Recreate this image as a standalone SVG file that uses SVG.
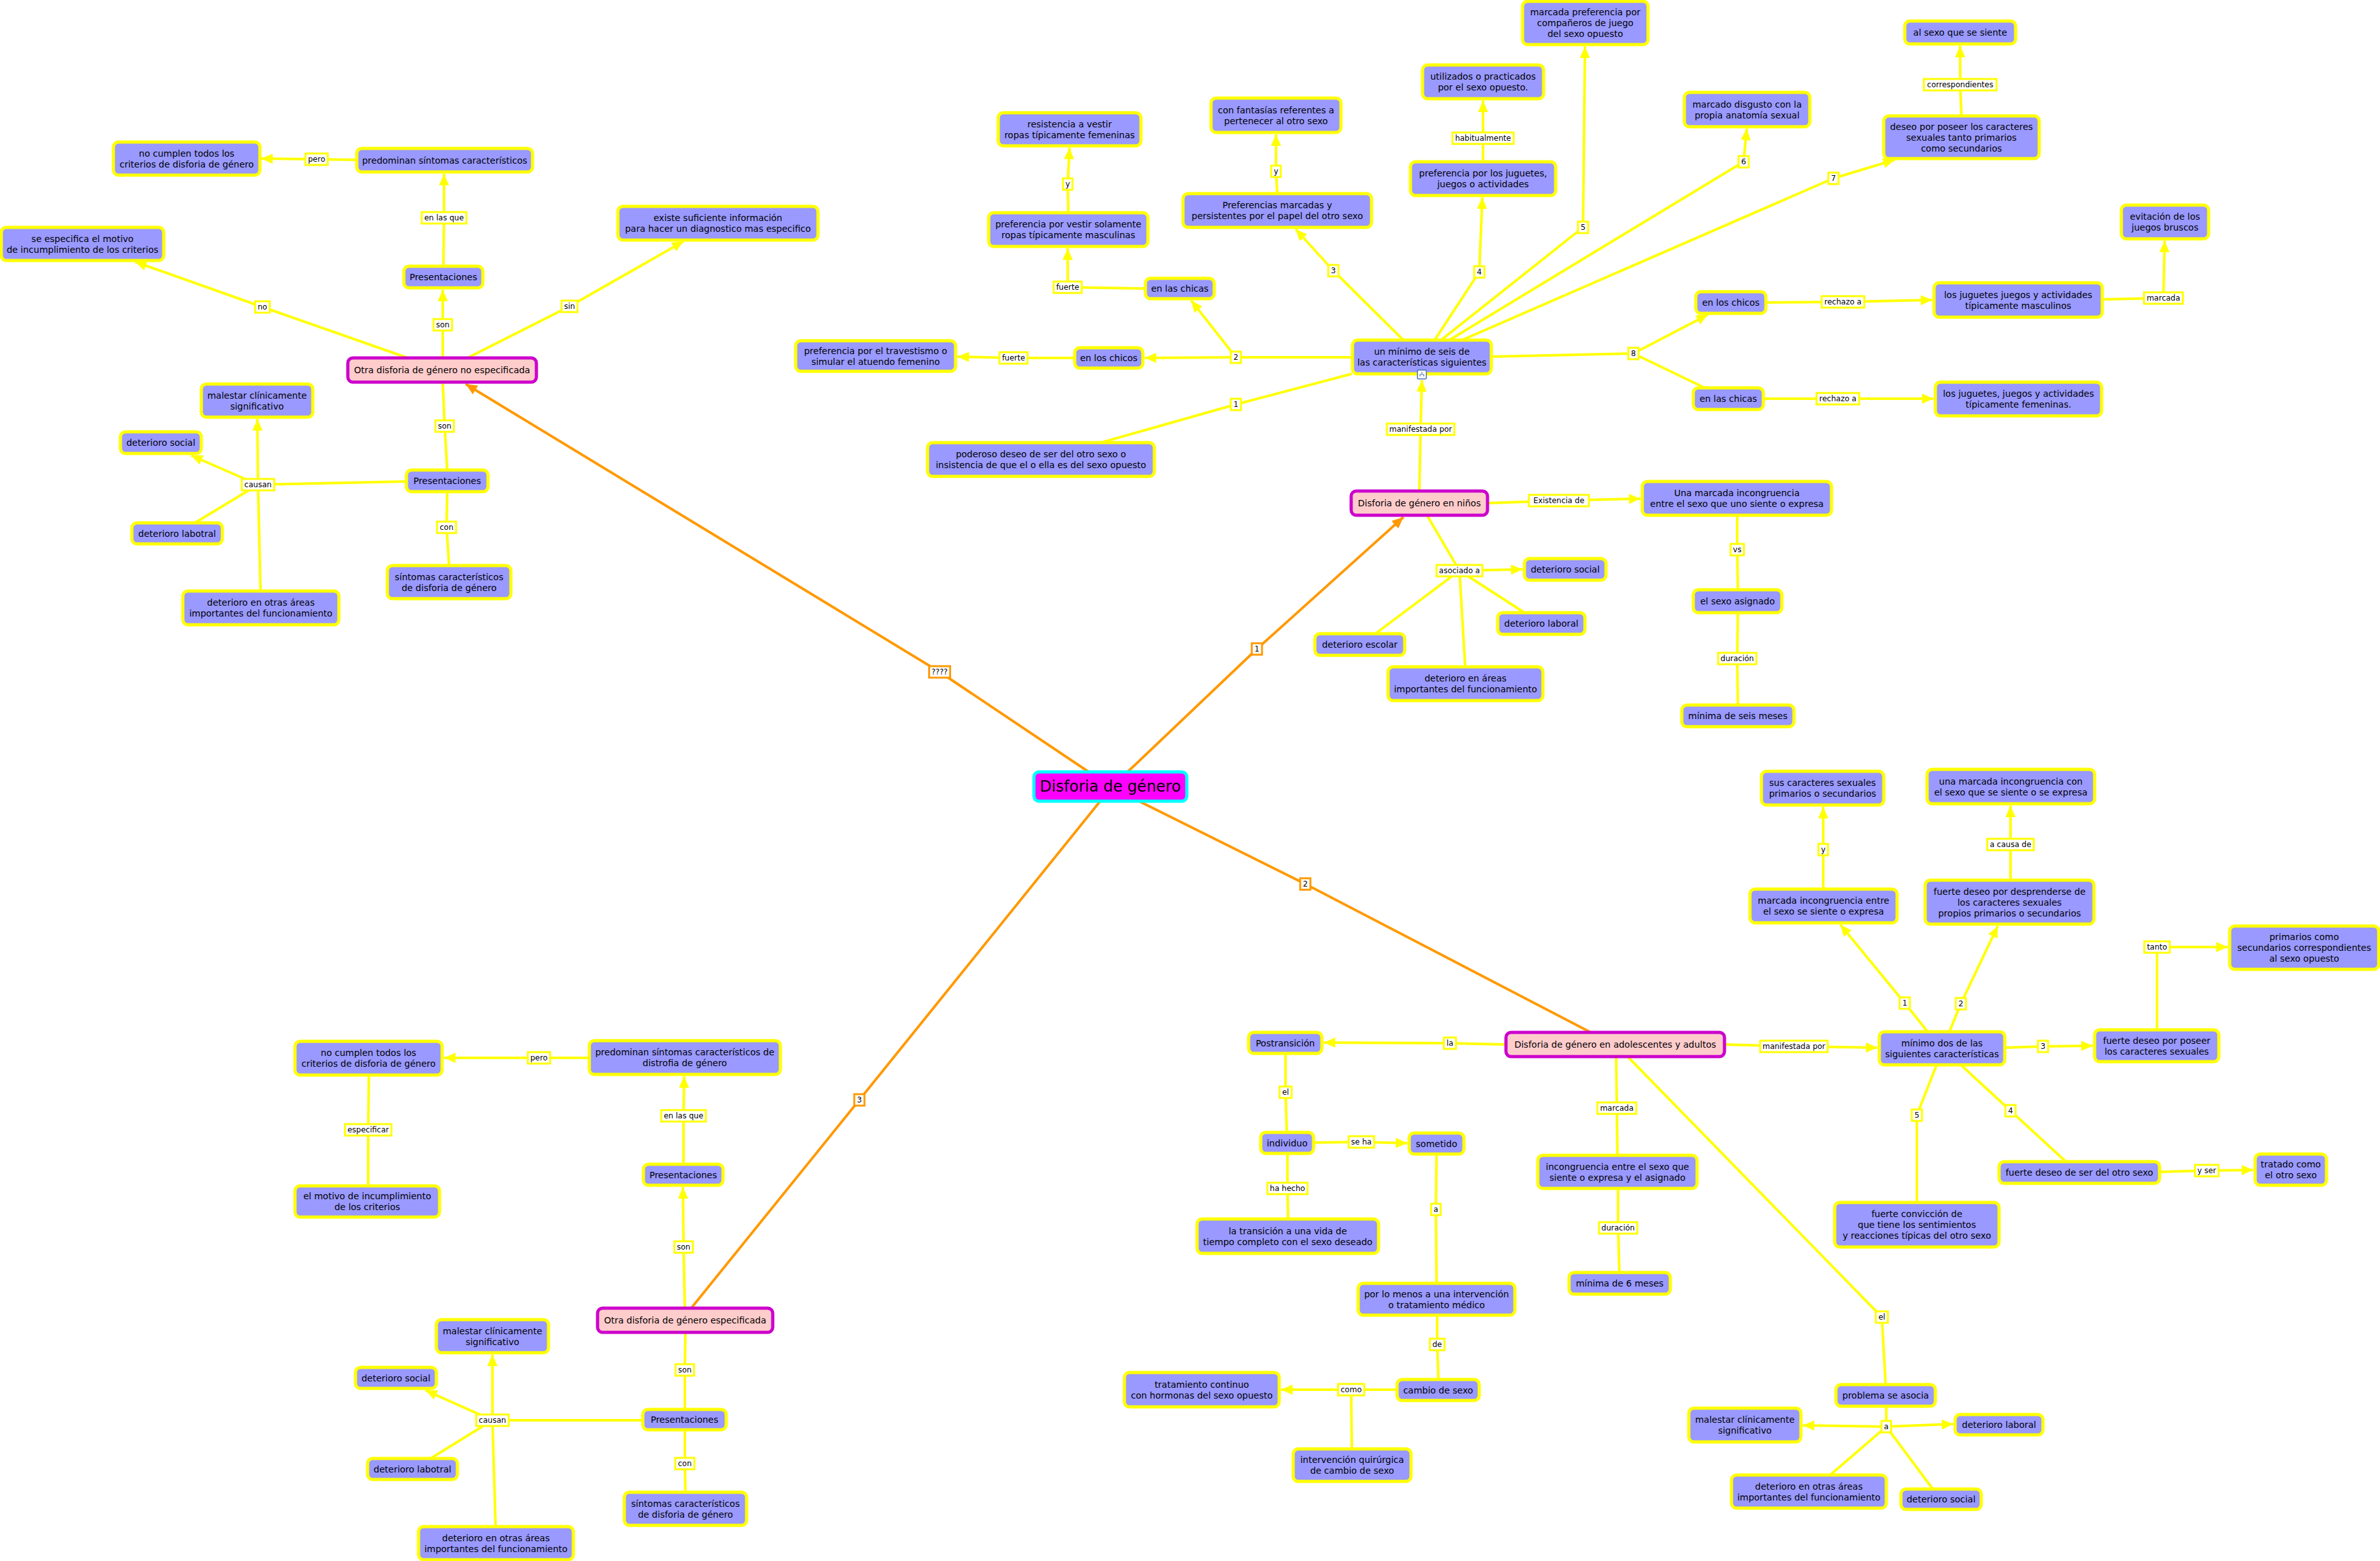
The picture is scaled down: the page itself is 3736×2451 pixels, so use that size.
<svg xmlns="http://www.w3.org/2000/svg" width="3736" height="2451" viewBox="0 0 3736 2451">
<style>
text{font-family:"DejaVu Sans",Verdana,"Liberation Sans",sans-serif;fill:#000;text-anchor:middle;dominant-baseline:central}
.n rect{fill:#9999FF;stroke:#FFFF00;stroke-width:5}
.p rect{fill:#FFCCCC;stroke:#CC00CC;stroke-width:5}
.c rect{fill:#FF00FF;stroke:#00FFFF;stroke-width:5}
.n text,.p text{font-size:14px}
.c text{font-size:24px}
.y{fill:none;stroke:#FFFF00;stroke-width:4;stroke-linejoin:round}
.o{fill:none;stroke:#FF9900;stroke-width:4;stroke-linejoin:round}
.ya{marker-end:url(#ay)}
.oa{marker-end:url(#ao)}
.l rect{fill:#fff;stroke:#FFFF00;stroke-width:3}
.lo rect{fill:#fff;stroke:#FF9900;stroke-width:3}
.l text,.lo text{font-size:12px}
</style>
<defs>
<marker id="ay" markerUnits="userSpaceOnUse" markerWidth="18" markerHeight="16" refX="18" refY="8" orient="auto"><path d="M0,0 L18,8 L0,16 z" fill="#FFFF00"/></marker>
<marker id="ao" markerUnits="userSpaceOnUse" markerWidth="18" markerHeight="16" refX="18" refY="8" orient="auto"><path d="M0,0 L18,8 L0,16 z" fill="#FF9900"/></marker>
</defs>
<rect width="3736" height="2451" fill="#fff"/>
<g id="connectors">
<!-- top-left -->
<polyline class="y ya" points="560,251 497,250 410,249"/>
<polyline class="y ya" points="696,418 697,342 697,273"/>
<polyline class="y ya" points="695,562 695,510 695,455"/>
<polyline class="y ya" points="640,562 412,482 212,411"/>
<polyline class="y ya" points="734,562 894,481 1073,379"/>
<polyline class="y" points="695,600 698,669 702,738"/>
<polyline class="y" points="702,772 701,828 705,888"/>
<polyline class="y" points="638,756 405,761"/>
<polyline class="y ya" points="405,761 404,658"/>
<polyline class="y ya" points="405,761 300,715"/>
<polyline class="y" points="405,761 306,821"/>
<polyline class="y" points="405,761 409,928"/>
<!-- top-middle -->
<polyline class="y" points="2122,587 1940,635 1728,695"/>
<polyline class="y ya" points="2123,561 1940,561 1797,562"/>
<polyline class="y ya" points="1940,561 1870,472"/>
<polyline class="y ya" points="1687,562 1591,562 1503,560"/>
<polyline class="y ya" points="1798,453 1676,451 1676,390"/>
<polyline class="y ya" points="1677,334 1676,289 1679,232"/>
<polyline class="y ya" points="2203,534 2093,425 2034,360"/>
<polyline class="y ya" points="2005,304 2003,269 2003,211"/>
<polyline class="y ya" points="2252,534 2322,427 2327,310"/>
<polyline class="y ya" points="2328,254 2328,217 2328,158"/>
<polyline class="y ya" points="2262,534 2485,357 2488,73"/>
<polyline class="y ya" points="2275,534 2737,254 2742,202"/>
<polyline class="y ya" points="2295,534 2878,280 2974,251"/>
<polyline class="y ya" points="3079,182 3077,133 3077,72"/>
<polyline class="y ya" points="2341,560 2564,555 2681,494"/>
<polyline class="y" points="2564,555 2676,609"/>
<polyline class="y ya" points="2772,475 2893,474 3033,471"/>
<polyline class="y ya" points="2768,626 2885,626 3035,626"/>
<polyline class="y ya" points="3300,470 3396,468 3398,378"/>
<polyline class="y ya" points="2228,771 2230,674 2232,597"/>
<polyline class="y ya" points="2335,790 2447,786 2575,783"/>
<polyline class="y" points="2727,809 2727,863 2728,926"/>
<polyline class="y" points="2728,962 2727,1034 2728,1107"/>
<polyline class="y" points="2240,809 2291,896"/>
<polyline class="y ya" points="2291,896 2390,894"/>
<polyline class="y" points="2291,896 2393,962"/>
<polyline class="y" points="2291,896 2159,995"/>
<polyline class="y" points="2291,896 2300,1047"/>
<!-- orange -->
<polyline class="o oa" points="1709,1212 1475,1055 731,603"/>
<polyline class="o oa" points="1770,1212 1973,1019 2203,812"/>
<polyline class="o" points="1788,1258 2049,1388 2497,1621"/>
<polyline class="o" points="1727,1258 1349,1727 1085,2054"/>
<!-- bottom-left -->
<polyline class="y ya" points="925,1661 846,1661 697,1661"/>
<polyline class="y ya" points="1073,1828 1073,1752 1074,1690"/>
<polyline class="y ya" points="1075,2054 1073,1958 1072,1864"/>
<polyline class="y" points="579,1688 578,1774 578,1862"/>
<polyline class="y" points="1076,2092 1075,2151 1075,2213"/>
<polyline class="y" points="1075,2245 1075,2298 1076,2343"/>
<polyline class="y" points="1009,2230 773,2230"/>
<polyline class="y ya" points="773,2230 773,2127"/>
<polyline class="y ya" points="773,2230 668,2183"/>
<polyline class="y" points="773,2230 676,2290"/>
<polyline class="y" points="773,2230 778,2397"/>
<!-- adolescentes -->
<polyline class="y ya" points="2364,1640 2276,1638 2078,1637"/>
<polyline class="y" points="2018,1654 2018,1715 2020,1778"/>
<polyline class="y ya" points="2062,1794 2137,1793 2209,1795"/>
<polyline class="y" points="2021,1811 2021,1866 2022,1914"/>
<polyline class="y" points="2255,1812 2254,1899 2255,2015"/>
<polyline class="y" points="2256,2065 2256,2111 2258,2166"/>
<polyline class="y ya" points="2193,2182 2121,2182 2011,2182"/>
<polyline class="y" points="2121,2182 2122,2275"/>
<polyline class="y" points="2537,1659 2538,1740 2539,1814"/>
<polyline class="y" points="2540,1866 2540,1928 2542,1998"/>
<polyline class="y" points="2555,1659 2954,2068 2960,2174"/>
<polyline class="y" points="2961,2208 2961,2240"/>
<polyline class="y ya" points="2961,2240 2830,2238"/>
<polyline class="y ya" points="2961,2240 3066,2236"/>
<polyline class="y" points="2961,2240 2873,2316"/>
<polyline class="y" points="2961,2240 3034,2338"/>
<polyline class="y ya" points="2707,1640 2816,1643 2947,1645"/>
<polyline class="y ya" points="3026,1620 2990,1575 2889,1452"/>
<polyline class="y ya" points="2862,1396 2862,1334 2862,1267"/>
<polyline class="y ya" points="3060,1620 3078,1576 3136,1454"/>
<polyline class="y ya" points="3156,1382 3156,1326 3156,1265"/>
<polyline class="y ya" points="3147,1645 3207,1643 3285,1642"/>
<polyline class="y ya" points="3386,1617 3386,1487 3497,1487"/>
<polyline class="y" points="3078,1672 3156,1744 3243,1824"/>
<polyline class="y ya" points="3390,1840 3464,1838 3537,1837"/>
<polyline class="y" points="3040,1672 3009,1751 3009,1888"/>

<!-- link labels -->
<g class="l"><rect x="479.5" y="241" width="35" height="18"/><text x="497" y="250">pero</text></g>
<g class="l"><rect x="662" y="333" width="70" height="18"/><text x="697" y="342">en las que</text></g>
<g class="l"><rect x="400.5" y="473" width="23" height="18"/><text x="412" y="482">no</text></g>
<g class="l"><rect x="680.5" y="501" width="29" height="18"/><text x="695" y="510">son</text></g>
<g class="l"><rect x="881.5" y="472" width="25" height="18"/><text x="894" y="481">sin</text></g>
<g class="l"><rect x="683.5" y="660" width="29" height="18"/><text x="698" y="669">son</text></g>
<g class="l"><rect x="379.5" y="752" width="51" height="18"/><text x="405" y="761">causan</text></g>
<g class="l"><rect x="686" y="819" width="30" height="18"/><text x="701" y="828">con</text></g>

<g class="l"><rect x="1932" y="626" width="16" height="18"/><text x="1940" y="635">1</text></g>
<g class="l"><rect x="1932" y="552" width="16" height="18"/><text x="1940" y="561">2</text></g>
<g class="l"><rect x="1569" y="553" width="44" height="18"/><text x="1591" y="562">fuerte</text></g>
<g class="l"><rect x="1654" y="442" width="44" height="18"/><text x="1676" y="451">fuerte</text></g>
<g class="l"><rect x="1668.5" y="280" width="15" height="18"/><text x="1676" y="289">y</text></g>
<g class="l"><rect x="2085" y="416" width="16" height="18"/><text x="2093" y="425">3</text></g>
<g class="l"><rect x="1995.5" y="260" width="15" height="18"/><text x="2003" y="269">y</text></g>
<g class="l"><rect x="2314" y="418" width="16" height="18"/><text x="2322" y="427">4</text></g>
<g class="l"><rect x="2280" y="208" width="96" height="18"/><text x="2328" y="217">habitualmente</text></g>
<g class="l"><rect x="2477" y="348" width="16" height="18"/><text x="2485" y="357">5</text></g>
<g class="l"><rect x="2729" y="245" width="16" height="18"/><text x="2737" y="254">6</text></g>
<g class="l"><rect x="2870" y="271" width="16" height="18"/><text x="2878" y="280">7</text></g>
<g class="l"><rect x="3020" y="124" width="114" height="18"/><text x="3077" y="133">correspondientes</text></g>
<g class="l"><rect x="2556" y="546" width="16" height="18"/><text x="2564" y="555">8</text></g>
<g class="l"><rect x="2859.5" y="465" width="67" height="18"/><text x="2893" y="474">rechazo a</text></g>
<g class="l"><rect x="2851.5" y="617" width="67" height="18"/><text x="2885" y="626">rechazo a</text></g>
<g class="l"><rect x="3365.5" y="459" width="61" height="18"/><text x="3396" y="468">marcada</text></g>
<g class="l"><rect x="2177" y="665" width="106" height="18"/><text x="2230" y="674">manifestada por</text></g>
<g class="l"><rect x="2400" y="777" width="94" height="18"/><text x="2447" y="786">Existencia de</text></g>
<g class="l"><rect x="2716.5" y="854" width="21" height="18"/><text x="2727" y="863">vs</text></g>
<g class="l"><rect x="2697" y="1025" width="60" height="18"/><text x="2727" y="1034">duración</text></g>
<g class="l"><rect x="2255" y="887" width="72" height="18"/><text x="2291" y="896">asociado a</text></g>

<g class="lo"><rect x="1458.5" y="1046" width="33" height="18"/><text x="1475" y="1055">????</text></g>
<g class="lo"><rect x="1965" y="1010" width="16" height="18"/><text x="1973" y="1019">1</text></g>
<g class="lo"><rect x="2041" y="1379" width="16" height="18"/><text x="2049" y="1388">2</text></g>
<g class="lo"><rect x="1341" y="1718" width="16" height="18"/><text x="1349" y="1727">3</text></g>

<g class="l"><rect x="828.5" y="1652" width="35" height="18"/><text x="846" y="1661">pero</text></g>
<g class="l"><rect x="1038" y="1743" width="70" height="18"/><text x="1073" y="1752">en las que</text></g>
<g class="l"><rect x="1058.5" y="1949" width="29" height="18"/><text x="1073" y="1958">son</text></g>
<g class="l"><rect x="541.5" y="1765" width="73" height="18"/><text x="578" y="1774">especificar</text></g>
<g class="l"><rect x="1060.5" y="2142" width="29" height="18"/><text x="1075" y="2151">son</text></g>
<g class="l"><rect x="1060" y="2289" width="30" height="18"/><text x="1075" y="2298">con</text></g>
<g class="l"><rect x="747.5" y="2221" width="51" height="18"/><text x="773" y="2230">causan</text></g>

<g class="l"><rect x="2266.5" y="1629" width="19" height="18"/><text x="2276" y="1638">la</text></g>
<g class="l"><rect x="2008.5" y="1706" width="19" height="18"/><text x="2018" y="1715">el</text></g>
<g class="l"><rect x="2117" y="1784" width="40" height="18"/><text x="2137" y="1793">se ha</text></g>
<g class="l"><rect x="1989.5" y="1857" width="63" height="18"/><text x="2021" y="1866">ha hecho</text></g>
<g class="l"><rect x="2246.5" y="1890" width="15" height="18"/><text x="2254" y="1899">a</text></g>
<g class="l"><rect x="2244.5" y="2102" width="23" height="18"/><text x="2256" y="2111">de</text></g>
<g class="l"><rect x="2100.5" y="2173" width="41" height="18"/><text x="2121" y="2182">como</text></g>
<g class="l"><rect x="2507.5" y="1731" width="61" height="18"/><text x="2538" y="1740">marcada</text></g>
<g class="l"><rect x="2510" y="1919" width="60" height="18"/><text x="2540" y="1928">duración</text></g>
<g class="l"><rect x="2763" y="1634" width="106" height="18"/><text x="2816" y="1643">manifestada por</text></g>
<g class="l"><rect x="2982" y="1566" width="16" height="18"/><text x="2990" y="1575">1</text></g>
<g class="l"><rect x="2854.5" y="1325" width="15" height="18"/><text x="2862" y="1334">y</text></g>
<g class="l"><rect x="3070" y="1567" width="16" height="18"/><text x="3078" y="1576">2</text></g>
<g class="l"><rect x="3119.5" y="1317" width="73" height="18"/><text x="3156" y="1326">a causa de</text></g>
<g class="l"><rect x="3199" y="1634" width="16" height="18"/><text x="3207" y="1643">3</text></g>
<g class="l"><rect x="3366" y="1478" width="40" height="18"/><text x="3386" y="1487">tanto</text></g>
<g class="l"><rect x="3148" y="1735" width="16" height="18"/><text x="3156" y="1744">4</text></g>
<g class="l"><rect x="3445.5" y="1829" width="37" height="18"/><text x="3464" y="1838">y ser</text></g>
<g class="l"><rect x="3001" y="1742" width="16" height="18"/><text x="3009" y="1751">5</text></g>
<g class="l"><rect x="2944.5" y="2059" width="19" height="18"/><text x="2954" y="2068">el</text></g>
<g class="l"><rect x="2953.5" y="2231" width="15" height="18"/><text x="2961" y="2240">a</text></g>
</g>

<!-- center -->
<g id="n-disforia" class="c"><rect x="1623" y="1212" width="240" height="46" rx="8"/><text x="1743" y="1235">Disforia de género</text></g>

<!-- top-left cluster -->
<g id="n-tl-nocumplen" class="n"><rect x="178" y="223" width="230" height="52" rx="8"/><text><tspan x="293" y="240.5">no cumplen todos los</tspan><tspan x="293" y="257.5">criterios de disforia de género</tspan></text></g>
<g id="n-tl-predominan" class="n"><rect x="560" y="233" width="276" height="37" rx="8"/><text x="698" y="251.5">predominan síntomas característicos</text></g>
<g id="n-tl-presentaciones1" class="n"><rect x="634" y="418" width="124" height="34" rx="8"/><text x="696" y="435">Presentaciones</text></g>
<g id="n-tl-seespecifica" class="n"><rect x="2" y="357" width="255" height="52" rx="8"/><text><tspan x="129.5" y="374.5">se especifica el motivo</tspan><tspan x="129.5" y="391.5">de incumplimiento de los criterios</tspan></text></g>
<g id="n-tl-existe" class="n"><rect x="970" y="324" width="314" height="53" rx="8"/><text><tspan x="1127" y="342">existe suficiente información</tspan><tspan x="1127" y="359">para hacer un diagnostico mas especifico</tspan></text></g>
<g id="n-otra-no-especificada" class="p"><rect x="546" y="562" width="296" height="38" rx="8"/><text x="694" y="581">Otra disforia de género no especificada</text></g>
<g id="n-tl-malestar" class="n"><rect x="316" y="603" width="175" height="52" rx="8"/><text><tspan x="403.5" y="620.5">malestar clínicamente</tspan><tspan x="403.5" y="637.5">significativo</tspan></text></g>
<g id="n-tl-social" class="n"><rect x="189" y="678" width="127" height="34" rx="8"/><text x="252.5" y="695">deterioro social</text></g>
<g id="n-tl-presentaciones2" class="n"><rect x="638" y="738" width="128" height="34" rx="8"/><text x="702" y="755">Presentaciones</text></g>
<g id="n-tl-labotral" class="n"><rect x="207" y="821" width="142" height="33" rx="8"/><text x="278" y="837.5">deterioro labotral</text></g>
<g id="n-tl-otrasareas" class="n"><rect x="287" y="928" width="245" height="53" rx="8"/><text><tspan x="409.5" y="946">deterioro en otras áreas</tspan><tspan x="409.5" y="963">importantes del funcionamiento</tspan></text></g>
<g id="n-tl-sintomas" class="n"><rect x="608" y="888" width="194" height="52" rx="8"/><text><tspan x="705" y="905.5">síntomas característicos</tspan><tspan x="705" y="922.5">de disforia de género</tspan></text></g>

<!-- niños cluster -->
<g id="n-minimo-seis" class="n"><rect x="2123" y="534" width="218" height="53" rx="8"/><text><tspan x="2232" y="552">un mínimo de seis de</tspan><tspan x="2232" y="569">las características siguientes</tspan></text></g>
<g id="icon"><rect x="2225" y="581" width="14" height="14" rx="2" fill="#fff" stroke="#4A6FB0" stroke-width="1.5"/><path d="M2232,584 v3 M2229,588 h6 M2229,588 v3 M2235,588 v3" stroke="#4A6FB0" stroke-width="1.2" fill="none"/></g>
<g id="n-poderoso" class="n"><rect x="1456" y="695" width="356" height="53" rx="8"/><text><tspan x="1634" y="713">poderoso deseo de ser del otro sexo o</tspan><tspan x="1634" y="730">insistencia de que el o ella es del sexo opuesto</tspan></text></g>
<g id="n-enloschicos1" class="n"><rect x="1687" y="546" width="107" height="32" rx="8"/><text x="1740.5" y="562">en los chicos</text></g>
<g id="n-travestismo" class="n"><rect x="1249" y="535" width="251" height="48" rx="8"/><text><tspan x="1374.5" y="550.5">preferencia por el travestismo o</tspan><tspan x="1374.5" y="567.5">simular el atuendo femenino</tspan></text></g>
<g id="n-enlaschicas1" class="n"><rect x="1798" y="437" width="108" height="32" rx="8"/><text x="1852" y="453">en las chicas</text></g>
<g id="n-vestir-masc" class="n"><rect x="1552" y="334" width="250" height="53" rx="8"/><text><tspan x="1677" y="352">preferencia por vestir solamente</tspan><tspan x="1677" y="369">ropas típicamente masculinas</tspan></text></g>
<g id="n-resistencia" class="n"><rect x="1567" y="177" width="224" height="52" rx="8"/><text><tspan x="1679" y="194.5">resistencia a vestir</tspan><tspan x="1679" y="211.5">ropas típicamente femeninas</tspan></text></g>
<g id="n-pref-marcadas" class="n"><rect x="1857" y="304" width="296" height="53" rx="8"/><text><tspan x="2005" y="322">Preferencias marcadas y</tspan><tspan x="2005" y="339">persistentes por el papel del otro sexo</tspan></text></g>
<g id="n-fantasias" class="n"><rect x="1901" y="154" width="204" height="54" rx="8"/><text><tspan x="2003" y="172.5">con fantasías referentes a</tspan><tspan x="2003" y="189.5">pertenecer al otro sexo</tspan></text></g>
<g id="n-pref-juguetes" class="n"><rect x="2214" y="254" width="228" height="53" rx="8"/><text><tspan x="2328" y="272">preferencia por los juguetes,</tspan><tspan x="2328" y="289">juegos o actividades</tspan></text></g>
<g id="n-utilizados" class="n"><rect x="2233" y="102" width="190" height="53" rx="8"/><text><tspan x="2328" y="120">utilizados o practicados</tspan><tspan x="2328" y="137">por el sexo opuesto.</tspan></text></g>
<g id="n-companeros" class="n"><rect x="2390" y="2" width="197" height="68" rx="8"/><text><tspan x="2488.5" y="19">marcada preferencia por</tspan><tspan x="2488.5" y="36">compañeros de juego</tspan><tspan x="2488.5" y="53">del sexo opuesto</tspan></text></g>
<g id="n-disgusto" class="n"><rect x="2644" y="145" width="197" height="54" rx="8"/><text><tspan x="2742.5" y="163.5">marcado disgusto con la</tspan><tspan x="2742.5" y="180.5">propia anatomía sexual</tspan></text></g>
<g id="n-deseo-poseer" class="n"><rect x="2957" y="182" width="244" height="67" rx="8"/><text><tspan x="3079" y="198.5">deseo por poseer los caracteres</tspan><tspan x="3079" y="215.5">sexuales tanto primarios</tspan><tspan x="3079" y="232.5">como secundarios</tspan></text></g>
<g id="n-alsexo" class="n"><rect x="2990" y="33" width="174" height="36" rx="8"/><text x="3077" y="51">al sexo que se siente</text></g>
<g id="n-enloschicos2" class="n"><rect x="2662" y="458" width="110" height="34" rx="8"/><text x="2717" y="475">en los chicos</text></g>
<g id="n-enlaschicas2" class="n"><rect x="2658" y="609" width="110" height="34" rx="8"/><text x="2713" y="626">en las chicas</text></g>
<g id="n-juguetes-masc" class="n"><rect x="3036" y="444" width="264" height="54" rx="8"/><text><tspan x="3168" y="462.5">los juguetes juegos y actividades</tspan><tspan x="3168" y="479.5">típicamente masculinos</tspan></text></g>
<g id="n-juguetes-fem" class="n"><rect x="3038" y="600" width="261" height="53" rx="8"/><text><tspan x="3168.5" y="618">los juguetes, juegos y actividades</tspan><tspan x="3168.5" y="635">típicamente femeninas.</tspan></text></g>
<g id="n-evitacion" class="n"><rect x="3330" y="322" width="137" height="53" rx="8"/><text><tspan x="3398.5" y="340">evitación de los</tspan><tspan x="3398.5" y="357">juegos bruscos</tspan></text></g>
<g id="n-ninos" class="p"><rect x="2121" y="771" width="214" height="38" rx="8"/><text x="2228" y="790">Disforia de género en niños</text></g>
<g id="n-una-marcada" class="n"><rect x="2578" y="756" width="297" height="53" rx="8"/><text><tspan x="2726.5" y="774">Una marcada incongruencia</tspan><tspan x="2726.5" y="791">entre el sexo que uno siente o expresa</tspan></text></g>
<g id="n-sexo-asignado" class="n"><rect x="2658" y="926" width="139" height="36" rx="8"/><text x="2727.5" y="944">el sexo asignado</text></g>
<g id="n-minima-seis-meses" class="n"><rect x="2640" y="1107" width="176" height="34" rx="8"/><text x="2728" y="1124">mínima de seis meses</text></g>
<g id="n-ni-social" class="n"><rect x="2393" y="877" width="128" height="34" rx="8"/><text x="2457" y="894">deterioro social</text></g>
<g id="n-ni-laboral" class="n"><rect x="2351" y="962" width="137" height="34" rx="8"/><text x="2419.5" y="979">deterioro laboral</text></g>
<g id="n-ni-escolar" class="n"><rect x="2064" y="995" width="141" height="34" rx="8"/><text x="2134.5" y="1012">deterioro escolar</text></g>
<g id="n-ni-areas" class="n"><rect x="2179" y="1047" width="243" height="53" rx="8"/><text><tspan x="2300.5" y="1065">deterioro en áreas</tspan><tspan x="2300.5" y="1082">importantes del funcionamiento</tspan></text></g>

<!-- bottom-left cluster -->
<g id="n-bl-nocumplen" class="n"><rect x="463" y="1635" width="231" height="53" rx="8"/><text><tspan x="578.5" y="1653">no cumplen todos los</tspan><tspan x="578.5" y="1670">criterios de disforia de género</tspan></text></g>
<g id="n-bl-predominan" class="n"><rect x="925" y="1634" width="300" height="53" rx="8"/><text><tspan x="1075" y="1652">predominan síntomas característicos de</tspan><tspan x="1075" y="1669">distrofia de género</tspan></text></g>
<g id="n-bl-presentaciones1" class="n"><rect x="1010" y="1828" width="125" height="33" rx="8"/><text x="1072.5" y="1844.5">Presentaciones</text></g>
<g id="n-bl-motivo" class="n"><rect x="463" y="1862" width="227" height="49" rx="8"/><text><tspan x="576.5" y="1878">el motivo de incumplimiento</tspan><tspan x="576.5" y="1895">de los criterios</tspan></text></g>
<g id="n-otra-especificada" class="p"><rect x="938" y="2054" width="275" height="38" rx="8"/><text x="1075.5" y="2073">Otra disforia de género especificada</text></g>
<g id="n-bl-presentaciones2" class="n"><rect x="1009" y="2213" width="131" height="32" rx="8"/><text x="1074.5" y="2229">Presentaciones</text></g>
<g id="n-bl-sintomas" class="n"><rect x="980" y="2343" width="192" height="52" rx="8"/><text><tspan x="1076" y="2360.5">síntomas característicos</tspan><tspan x="1076" y="2377.5">de disforia de género</tspan></text></g>
<g id="n-bl-malestar" class="n"><rect x="685" y="2072" width="176" height="52" rx="8"/><text><tspan x="773" y="2089.5">malestar clínicamente</tspan><tspan x="773" y="2106.5">significativo</tspan></text></g>
<g id="n-bl-social" class="n"><rect x="558" y="2147" width="127" height="33" rx="8"/><text x="621.5" y="2163.5">deterioro social</text></g>
<g id="n-bl-labotral" class="n"><rect x="577" y="2290" width="141" height="33" rx="8"/><text x="647.5" y="2306.5">deterioro labotral</text></g>
<g id="n-bl-otrasareas" class="n"><rect x="657" y="2397" width="243" height="52" rx="8"/><text><tspan x="778.5" y="2414.5">deterioro en otras áreas</tspan><tspan x="778.5" y="2431.5">importantes del funcionamiento</tspan></text></g>

<!-- adolescentes cluster -->
<g id="n-adolescentes" class="p"><rect x="2364" y="1621" width="343" height="38" rx="8"/><text x="2535.5" y="1640">Disforia de género en adolescentes y adultos</text></g>
<g id="n-postransicion" class="n"><rect x="1960" y="1621" width="115" height="33" rx="8"/><text x="2017.5" y="1637.5">Postransición</text></g>
<g id="n-individuo" class="n"><rect x="1979" y="1778" width="83" height="33" rx="8"/><text x="2020.5" y="1794.5">individuo</text></g>
<g id="n-sometido" class="n"><rect x="2212" y="1779" width="86" height="33" rx="8"/><text x="2255" y="1795.5">sometido</text></g>
<g id="n-transicion" class="n"><rect x="1879" y="1914" width="285" height="54" rx="8"/><text><tspan x="2021.5" y="1932.5">la transición a una vida de</tspan><tspan x="2021.5" y="1949.5">tiempo completo con el sexo deseado</tspan></text></g>
<g id="n-intervencion-medica" class="n"><rect x="2132" y="2015" width="246" height="50" rx="8"/><text><tspan x="2255" y="2031.5">por lo menos a una intervención</tspan><tspan x="2255" y="2048.5">o tratamiento médico</tspan></text></g>
<g id="n-cambio-sexo" class="n"><rect x="2193" y="2166" width="129" height="33" rx="8"/><text x="2257.5" y="2182.5">cambio de sexo</text></g>
<g id="n-hormonas" class="n"><rect x="1765" y="2155" width="243" height="54" rx="8"/><text><tspan x="1886.5" y="2173.5">tratamiento continuo</tspan><tspan x="1886.5" y="2190.5">con hormonas del sexo opuesto</tspan></text></g>
<g id="n-quirurgica" class="n"><rect x="2030" y="2275" width="185" height="51" rx="8"/><text><tspan x="2122.5" y="2292">intervención quirúrgica</tspan><tspan x="2122.5" y="2309">de cambio de sexo</tspan></text></g>
<g id="n-incongruencia" class="n"><rect x="2414" y="1814" width="250" height="52" rx="8"/><text><tspan x="2539" y="1831.5">incongruencia entre el sexo que</tspan><tspan x="2539" y="1848.5">siente o expresa y el asignado</tspan></text></g>
<g id="n-minima-6" class="n"><rect x="2463" y="1998" width="159" height="34" rx="8"/><text x="2542.5" y="2015">mínima de 6 meses</text></g>
<g id="n-minimo-dos" class="n"><rect x="2950" y="1620" width="197" height="52" rx="8"/><text><tspan x="3048.5" y="1637.5">mínimo dos de las</tspan><tspan x="3048.5" y="1654.5">siguientes características</tspan></text></g>
<g id="n-marcada-incong" class="n"><rect x="2747" y="1396" width="231" height="53" rx="8"/><text><tspan x="2862.5" y="1414">marcada incongruencia entre</tspan><tspan x="2862.5" y="1431">el sexo se siente o expresa</tspan></text></g>
<g id="n-sus-caracteres" class="n"><rect x="2765" y="1211" width="192" height="53" rx="8"/><text><tspan x="2861" y="1229">sus caracteres sexuales</tspan><tspan x="2861" y="1246">primarios o secundarios</tspan></text></g>
<g id="n-desprenderse" class="n"><rect x="3022" y="1382" width="265" height="69" rx="8"/><text><tspan x="3154.5" y="1399.5">fuerte deseo por desprenderse de</tspan><tspan x="3154.5" y="1416.5">los caracteres sexuales</tspan><tspan x="3154.5" y="1433.5">propios primarios o secundarios</tspan></text></g>
<g id="n-una-marcada-con" class="n"><rect x="3025" y="1208" width="263" height="54" rx="8"/><text><tspan x="3156.5" y="1226.5">una marcada incongruencia con</tspan><tspan x="3156.5" y="1243.5">el sexo que se siente o se expresa</tspan></text></g>
<g id="n-poseer" class="n"><rect x="3288" y="1617" width="195" height="50" rx="8"/><text><tspan x="3385.5" y="1633.5">fuerte deseo por poseer</tspan><tspan x="3385.5" y="1650.5">los caracteres sexuales</tspan></text></g>
<g id="n-primarios-como" class="n"><rect x="3500" y="1454" width="234" height="68" rx="8"/><text><tspan x="3617" y="1471">primarios como</tspan><tspan x="3617" y="1488">secundarios correspondientes</tspan><tspan x="3617" y="1505">al sexo opuesto</tspan></text></g>
<g id="n-ser-otro" class="n"><rect x="3138" y="1824" width="252" height="34" rx="8"/><text x="3264" y="1841">fuerte deseo de ser del otro sexo</text></g>
<g id="n-tratado" class="n"><rect x="3540" y="1812" width="112" height="49" rx="8"/><text><tspan x="3596" y="1828">tratado como</tspan><tspan x="3596" y="1845">el otro sexo</tspan></text></g>
<g id="n-conviccion" class="n"><rect x="2880" y="1888" width="258" height="70" rx="8"/><text><tspan x="3009" y="1906">fuerte convicción de</tspan><tspan x="3009" y="1923">que tiene los sentimientos</tspan><tspan x="3009" y="1940">y reacciones típicas del otro sexo</tspan></text></g>
<g id="n-problema" class="n"><rect x="2882" y="2174" width="156" height="34" rx="8"/><text x="2960" y="2191">problema se asocia</text></g>
<g id="n-ad-malestar" class="n"><rect x="2651" y="2211" width="176" height="53" rx="8"/><text><tspan x="2739" y="2229">malestar clínicamente</tspan><tspan x="2739" y="2246">significativo</tspan></text></g>
<g id="n-ad-laboral" class="n"><rect x="3069" y="2221" width="138" height="32" rx="8"/><text x="3138" y="2237">deterioro laboral</text></g>
<g id="n-ad-otrasareas" class="n"><rect x="2718" y="2316" width="243" height="52" rx="8"/><text><tspan x="2839.5" y="2333.5">deterioro en otras áreas</tspan><tspan x="2839.5" y="2350.5">importantes del funcionamiento</tspan></text></g>
<g id="n-ad-social" class="n"><rect x="2984" y="2338" width="126" height="32" rx="8"/><text x="3047" y="2354">deterioro social</text></g>
</svg>
